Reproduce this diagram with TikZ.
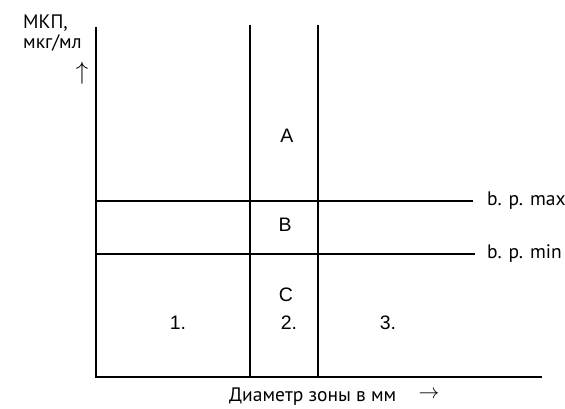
\documentclass[tikz,border=0pt]{standalone}
\usepackage{fontspec}
\setmainfont{Liberation Sans}
\newfontfamily\labfont{PT Sans}
\usetikzlibrary{positioning}

\begin{document}
\begin{tikzpicture}[x=1pt,y=-1pt,
  every node/.style={font=\fontsize{19.5}{22}\selectfont,inner sep=0pt},
  lab/.style={font=\labfont\fontsize{19.5}{22}\selectfont,anchor=base west},
  ln/.style={line width=1.4pt}]
\useasboundingbox (0,0) rectangle (565,408);
% axes
\coordinate (o) at (96,377);
\coordinate (ytop) at (96,27);
\coordinate (xend) at (542,377);
\draw[ln] (ytop) -- (o) -- (xend);
% zone borders
\coordinate (v1t) at (250,25); \coordinate (v1b) at (250,377);
\coordinate (v2t) at (318,25); \coordinate (v2b) at (318,377);
\draw[ln] (v1t) -- (v1b);
\draw[ln] (v2t) -- (v2b);
% breakpoints
\coordinate (maxl) at (96,201); \coordinate (maxr) at (473,201);
\coordinate (minl) at (96,254); \coordinate (minr) at (475,254);
\draw[ln] (maxl) -- (maxr);
\draw[ln] (minl) -- (minr);
\node[lab,anchor=west] (bpmax) at (487,201) {b. p. max};
\node[lab,anchor=west] (bpmin) at (487,254) {b. p. min};
% axis titles
\node[lab] (mkp) at (23,28) {МКП,};
\node[lab] (unit) at (23,48) {мкг/мл};
\node[font=\fontsize{25}{28}\selectfont] (up) at (82,73) {$\uparrow$};
\node[lab] (diam) at (229,401) {Диаметр зоны в мм};
\node[font=\fontsize{20}{22}\selectfont] (right) at (429,395) {$\rightarrow$};
% zones
\node (za) at (287,136) {A};
\node (zb) at (285,225) {B};
\node (zc) at (286,295) {C};
\node (n1) at (178,323) {1.};
\node (n2) at (289,323) {2.};
\node (n3) at (388,323) {3.};
\end{tikzpicture}
\end{document}
